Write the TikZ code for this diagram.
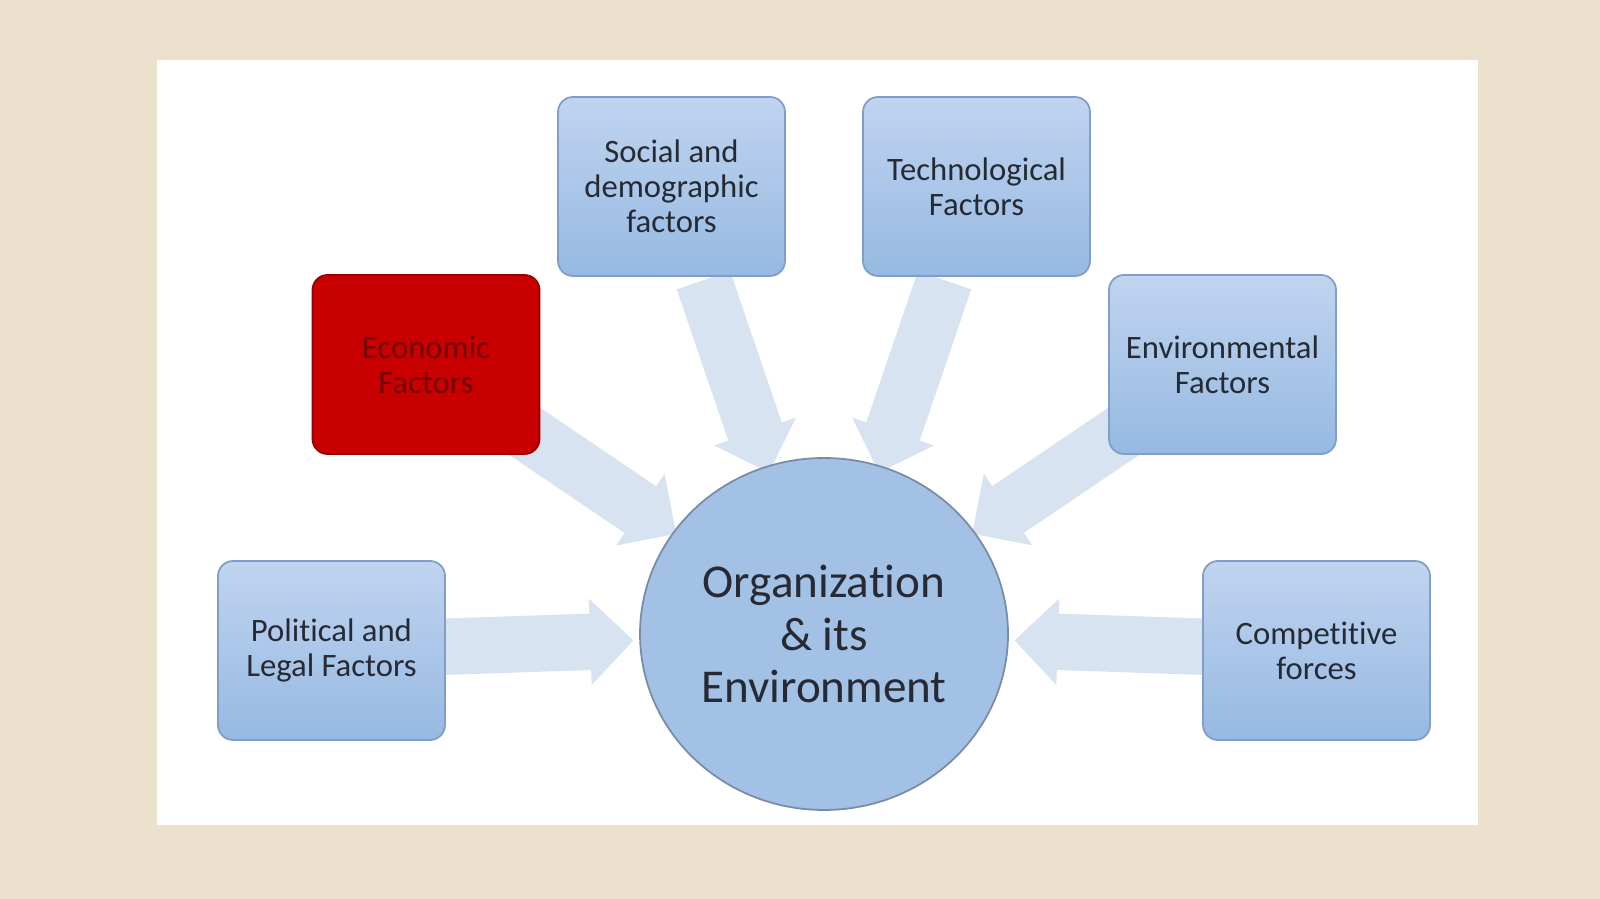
\documentclass[tikz,border=0pt]{standalone}
\usepackage{fontspec}
\setmainfont{Carlito}[Ligatures=NoCommon]
\usetikzlibrary{shapes.geometric,shapes.arrows,calc}
\definecolor{bgbeige}{RGB}{235,225,204}
\definecolor{arrowcol}{RGB}{216,227,242}
\definecolor{boxtop}{RGB}{192,212,239}
\definecolor{boxbot}{RGB}{150,185,226}
\definecolor{boxline}{RGB}{128,158,198}
\definecolor{orgfill}{RGB}{163,193,229}
\definecolor{orgline}{RGB}{120,140,168}
\definecolor{ecofill}{RGB}{200,0,0}
\definecolor{ecoline}{RGB}{150,0,0}
\definecolor{ecotext}{RGB}{115,5,5}
\definecolor{txt}{RGB}{38,42,52}
\pgfdeclarelayer{back}
\pgfdeclarelayer{arrows}
\pgfsetlayers{back,arrows,main}
\tikzset{
  factor/.style={rectangle, rounded corners=0.15cm, draw=boxline, line width=0.5pt,
    top color=boxtop, bottom color=boxbot, minimum width=2.27cm, minimum height=1.79cm,
    align=center, text=txt, font=\fontsize{9.3}{10}\selectfont, inner sep=1pt},
  ecobox/.style={top color=ecofill, bottom color=ecofill, draw=ecoline, text=ecotext},
  orgnode/.style={ellipse, minimum width=3.68cm, minimum height=3.52cm, inner sep=0pt,
    fill=orgfill, draw=orgline, line width=0.5pt, align=center, text=txt,
    font=\fontsize{13.4}{14.9}\selectfont},
  blockarrow/.style={single arrow, fill=arrowcol, draw=none, inner xsep=0pt, inner ysep=0.275cm,
    minimum width=0.85cm, single arrow head extend=0.15cm, single arrow tip angle=90,
    minimum height=2.03cm, sloped, allow upside down}
}
\begin{document}
\begin{tikzpicture}[x=1cm,y=1cm]
\useasboundingbox (0,0) rectangle (16,-8.99);
\begin{pgfonlayer}{back}
  \fill[bgbeige] (0,0) rectangle (16,-8.99);
  \fill[white] (1.57,-0.60) rectangle (14.78,-8.25);
\end{pgfonlayer}
\node[factor] (soc) at (6.715,-1.865) {Social and\\demographic\\factors};
\node[factor] (tech) at (9.765,-1.865) {Technological\\Factors};
\node[factor, ecobox] (eco) at (4.26,-3.645) {Economic\\Factors};
\node[factor] (env) at (12.225,-3.645) {Environmental\\Factors};
\node[factor] (pol) at (3.315,-6.505) {Political and\\Legal Factors};
\node[factor] (comp) at (13.165,-6.505) {Competitive\\forces};
\node[orgnode] (org) at (8.24,-6.34) {Organization\\\& its\\Environment};
\begin{pgfonlayer}{arrows}
  \foreach \b in {soc,tech,eco,env,pol,comp} {
    \path ($(\b.center)!0.85cm!(org.center)$) -- ($(\b.center)!2.88cm!(org.center)$)
      node[blockarrow, midway] {};
  }
\end{pgfonlayer}
\end{tikzpicture}
\end{document}
